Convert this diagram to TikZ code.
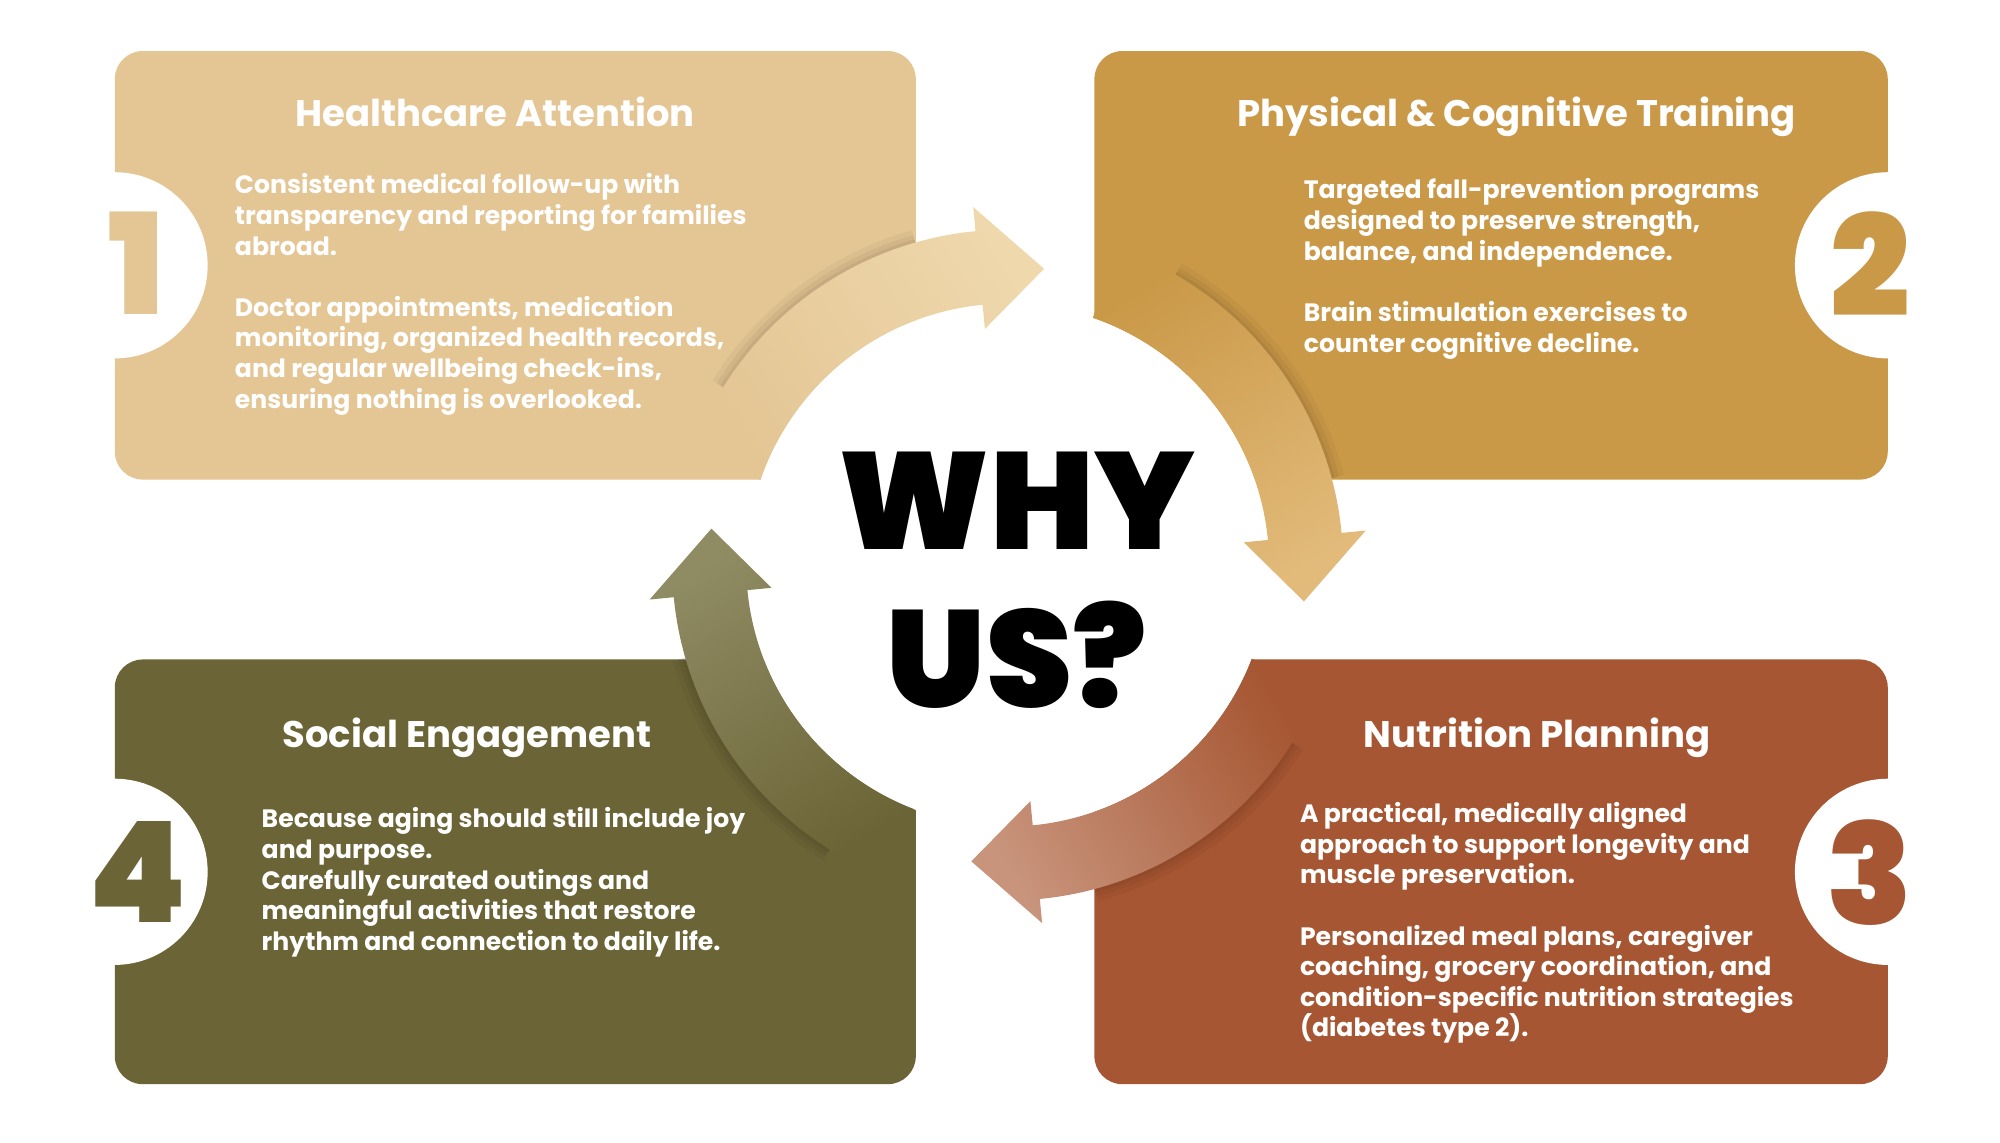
\documentclass[tikz,border=0pt]{standalone}
\usepackage{fontspec}
\setmainfont{Poppins}
\IfFontExistsTF{Poppins Black}{\newfontfamily\heavyfont{Poppins Black}}{\newfontfamily\heavyfont{Poppins}[UprightFont=* Bold]}
\newfontfamily\bodyfont{Poppins}[UprightFont=* Bold]
\newfontfamily\titlefont{Poppins}[UprightFont=* Bold]
\definecolor{healthtan}{RGB}{228, 197, 148}
\definecolor{healthlight}{RGB}{238, 216, 172}
\definecolor{traingold}{RGB}{202, 153, 72}
\definecolor{trainlight}{RGB}{226, 186, 122}
\definecolor{nutrirust}{RGB}{166, 86, 50}
\definecolor{nutrilight}{RGB}{200, 148, 124}
\definecolor{socialolive}{RGB}{107, 100, 54}
\definecolor{sociallight}{RGB}{143, 139, 99}
\usetikzlibrary{positioning}

% ring arrow around the centre: options, start angle, tip angle
\newcommand{\ringarrow}[3]{%
  \path[#1] (#2:263pt) arc[start angle=#2, end angle={#3+12.5}, radius=263pt]
    -- ({#3+12.5}:282pt) -- (#3:234pt) -- ({#3+12.5}:186pt) -- ({#3+12.5}:205pt)
    arc[start angle={#3+12.5}, end angle=#2, radius=205pt] -- cycle;}
% soft shade along the outer edge of an arrow inside its card
\newcommand{\edgeshade}[2]{%
  \draw[black, opacity=0.035, line width=14pt] (#1:266pt) arc[start angle=#1, end angle=#2, radius=266pt];
  \draw[black, opacity=0.045, line width=8pt] (#1:265pt) arc[start angle=#1, end angle=#2, radius=265pt];
  \draw[black, opacity=0.05, line width=3pt] (#1:264pt) arc[start angle=#1, end angle=#2, radius=264pt];}

\tikzset{
  card/.style={rounded corners=22pt, minimum width=628pt, minimum height=336pt, inner sep=0pt},
  cardtitle/.style={font=\titlefont\fontsize{29}{34}\selectfont, text=white, anchor=base},
  cardtext/.style={font=\bodyfont\fontsize{19.7}{24}\selectfont, text=white, align=left, anchor=north west, inner sep=0pt},
  number/.style={font=\heavyfont\fontsize{110}{110}\selectfont, inner sep=0pt},
}

\begin{document}
\begin{tikzpicture}[x=1pt, y=-1pt]
  \useasboundingbox (0,0) rectangle (1568,896);
  \fill[white] (0,0) rectangle (1568,896);

  % the four cards
  \node[card, fill=healthtan] (health) at (404,208) {};
  \node[card, fill=traingold, minimum width=622pt] (train) at (1169,208) {};
  \node[card, fill=nutrirust, minimum width=622pt, minimum height=333pt] (nutri) at (1169,683.5) {};
  \node[card, fill=socialolive, minimum height=333pt] (social) at (404,683.5) {};

  % notches for the numbers
  \fill[white] (health.west) circle[radius=73pt];
  \fill[white] (train.east) circle[radius=73pt];
  \fill[white] (nutri.east) circle[radius=73pt];
  \fill[white] (social.west) circle[radius=73pt];

  % centre and cycle arrows
  \begin{scope}[shift={(790,443)}]
    \fill[white] (0:0pt) circle[radius=205pt];
    \edgeshade{148}{106}
    \edgeshade{60}{15}
    \edgeshade{-32}{-75}
    \edgeshade{-122}{-164}
    \ringarrow{top color=healthlight, bottom color=healthtan, shading angle=-58}{161}{83}
    \ringarrow{top color=trainlight, bottom color=traingold, shading angle=-148}{71}{-7}
    \ringarrow{top color=nutrilight, bottom color=nutrirust, shading angle=121}{-21}{-97}
    \ringarrow{top color=sociallight, bottom color=socialolive, shading angle=31}{-111}{-187}
  \end{scope}

  % numbers
  \node[number, text=healthtan] (one) at (107,206) {1};
  \node[number, text=traingold] (two) at (1466,207) {2};
  \node[number, text=nutrirust] (three) at (1466,684) {3};
  \node[number, text=socialolive] (four) at (108,684) {4};

  % titles
  \node[cardtitle] (healthtitle) at (388,99) {Healthcare Attention};
  \node[cardtitle] (traintitle) at (1189,99) {Physical \& Cognitive Training};
  \node[cardtitle] (nutrititle) at (1205,586) {Nutrition Planning};
  \node[cardtitle] (socialtitle) at (366,586) {Social Engagement};

  % texts
  \node[cardtext] (healthtext) at (184,136) {Consistent medical follow-up with\\
    transparency and reporting for families\\abroad.\\[24pt]
    Doctor appointments, medication\\monitoring, organized health records,\\
    and regular wellbeing check-ins,\\ensuring nothing is overlooked.};
  \node[cardtext] (traintext) at (1022,140) {Targeted fall-prevention programs\\
    designed to preserve strength,\\balance, and independence.\\[24pt]
    Brain stimulation exercises to\\counter cognitive decline.};
  \node[cardtext] (nutritext) at (1019,629) {A practical, medically aligned\\
    approach to support longevity and\\muscle preservation.\\[24pt]
    Personalized meal plans, caregiver\\coaching, grocery coordination, and\\
    condition-specific nutrition strategies\\(diabetes type 2).};
  \node[cardtext] (socialtext) at (205,633) {Because aging should still include joy\\
    and purpose.\\Carefully curated outings and\\meaningful activities that restore\\
    rhythm and connection to daily life.};

  % centre question
  \node[font=\heavyfont\fontsize{108}{124}\selectfont, align=center, inner sep=0pt] (why) at (797,455) {WHY\\US?};
\end{tikzpicture}
\end{document}
